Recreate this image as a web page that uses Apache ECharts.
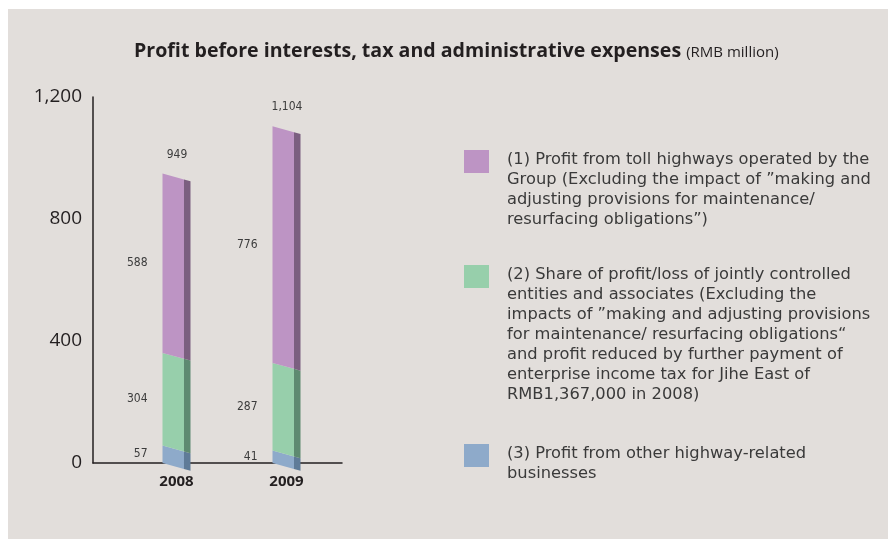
<!DOCTYPE html>
<html>
<head>
<meta charset="utf-8">
<script src="https://cdn.jsdelivr.net/npm/echarts@6/dist/echarts.min.js"></script>
<style>
  html, body { margin: 0; padding: 0; background: #ffffff; }
  #panel { position: absolute; left: 8px; top: 9px; width: 880px; height: 530px; background: #e2dedb; }
  #chart { position: absolute; left: 0; top: 0; width: 888px; height: 539px; }
</style>
</head>
<body>
<div id="panel"></div>
<div id="chart"></div>
<script>
// Profit components by year (RMB million)
const years = ['2008', '2009'];
const tollHighways = [588, 776];
const jointEntities = [304, 287];
const otherBusinesses = [57, 41];

const legendTexts = [
  '(1) Profit from toll highways operated by the\nGroup (Excluding the impact of \u201Dmaking and\nadjusting provisions for maintenance/\nresurfacing obligations\u201D)',
  '(2) Share of profit/loss of jointly controlled\nentities and associates (Excluding the\nimpacts of \u201Dmaking and adjusting provisions\nfor maintenance/ resurfacing obligations\u201C\nand profit reduced by further payment of\nenterprise income tax for Jihe East of\nRMB1,367,000 in 2008)',
  '(3) Profit from other highway-related\nbusinesses'
];

const FRONT = { toll: '#bd94c4', joint: '#97cfab', other: '#8eaaca' };
const SIDE = { toll: '#7b5f80', joint: '#5e8a71', other: '#5f7b98' };

const FRONT_W = 21.5;   // width of the front face
const SIDE_W = 6.5;     // width of the side face
const DROP = 7.7;       // downward slant across the whole bar width
const fmt = v => Number(v).toLocaleString('en-US');
const labelFont = '12px "Liberation Sans Narrow", "DejaVu Sans Condensed", sans-serif';

// running bases for stacking
const base0 = years.map(() => 0);
const base1 = otherBusinesses.map((v, i) => base0[i] + v);
const base2 = jointEntities.map((v, i) => base1[i] + v);
const totals = tollHighways.map((v, i) => base2[i] + v);

function slantedBar(name, values, below, front, side) {
  return {
    type: 'custom',
    name: name,
    data: values.map((v, i) => [i, below[i], below[i] + v, v]),
    encode: { x: 0, y: [1, 2] },
    z: 3,
    renderItem: function (params, api) {
      const i = api.value(0);
      const lo = api.value(1), hi = api.value(2);
      const pLo = api.coord([i, lo]);
      const pHi = api.coord([i, hi]);
      const k = DROP / (FRONT_W + SIDE_W);
      const xl = pLo[0] - (FRONT_W + SIDE_W) / 2;
      const xm = xl + FRONT_W;
      const xr = xm + SIDE_W;
      const yHi = pHi[1], yLo = pLo[1];
      const dm = k * FRONT_W;
      return {
        type: 'group',
        children: [
          { type: 'polygon',
            shape: { points: [[xl, yHi], [xm, yHi + dm], [xm, yLo + dm], [xl, yLo]] },
            style: { fill: front } },
          { type: 'polygon',
            shape: { points: [[xm, yHi + dm], [xr, yHi + DROP], [xr, yLo + DROP], [xm, yLo + dm]] },
            style: { fill: side } },
          { type: 'text', x: xl - 15, y: (yHi + yLo) / 2,
            style: { text: fmt(api.value(3)), align: 'right', verticalAlign: 'middle',
                     font: labelFont, fill: '#3c3c3c' } }
        ]
      };
    }
  };
}

const chart = echarts.init(document.getElementById('chart'), null, { renderer: 'canvas' });

const legendTops = [150, 265, 444];
const legendColors = [FRONT.toll, FRONT.joint, FRONT.other];

chart.setOption({
  backgroundColor: 'transparent',
  animation: false,
  title: {
    left: 129,
    top: 36,
    text: '{b|Profit before interests, tax and administrative expenses} {s|(RMB million)}',
    textStyle: {
      rich: {
        b: { fontFamily: '"Open Sans", sans-serif', fontWeight: 'bold', fontSize: 19.6, color: '#231f20' },
        s: { fontFamily: '"Open Sans", sans-serif', fontWeight: 'normal', fontSize: 15, color: '#231f20', padding: [3, 0, 0, 0] }
      }
    }
  },
  grid: { left: 93, top: 97, width: 249, height: 366 },
  xAxis: {
    type: 'value',
    min: -0.759,
    max: 1.5045,
    axisLine: { show: true, lineStyle: { color: '#231f20', width: 1.5 } },
    axisTick: { show: false },
    splitLine: { show: false },
    axisLabel: {
      customValues: [0, 1],
      formatter: v => years[Math.round(v)],
      margin: 11,
      fontFamily: '"Open Sans", sans-serif',
      fontWeight: 'bold',
      fontSize: 15,
      color: '#231f20'
    }
  },
  yAxis: {
    type: 'value',
    min: 0,
    max: 1200,
    interval: 400,
    axisLine: { show: true, onZero: false, lineStyle: { color: '#231f20', width: 1.5 } },
    axisTick: { show: false },
    splitLine: { show: false },
    axisLabel: {
      formatter: v => fmt(v),
      margin: 11,
      fontFamily: '"Open Sans", sans-serif',
      fontSize: 19,
      color: '#231f20'
    }
  },
  graphic: legendTexts.map((t, i) => ({
    type: 'group',
    left: 464,
    top: legendTops[i],
    children: [
      { type: 'rect', shape: { x: 0, y: 0, width: 25, height: 23 }, style: { fill: legendColors[i] } },
      { type: 'text', x: 43, y: 0,
        style: { text: t, font: '16.3px "DejaVu Sans", sans-serif', lineHeight: 20,
                 fill: '#3a3a3a', verticalAlign: 'top' } }
    ]
  })),
  series: [
    slantedBar('Profit from other highway-related businesses', otherBusinesses, base0, FRONT.other, SIDE.other),
    slantedBar('Share of profit/loss of jointly controlled entities and associates', jointEntities, base1, FRONT.joint, SIDE.joint),
    slantedBar('Profit from toll highways', tollHighways, base2, FRONT.toll, SIDE.toll),
    {
      type: 'custom',
      name: 'Total',
      data: totals.map((v, i) => [i, v]),
      encode: { x: 0, y: 1 },
      z: 4,
      renderItem: function (params, api) {
        const p = api.coord([api.value(0), api.value(1)]);
        return {
          type: 'text', x: p[0] + 0.5, y: p[1] - 19,
          style: { text: fmt(api.value(1)), align: 'center', verticalAlign: 'middle',
                   font: labelFont, fill: '#3c3c3c' }
        };
      }
    }
  ]
});
</script>
</body>
</html>
